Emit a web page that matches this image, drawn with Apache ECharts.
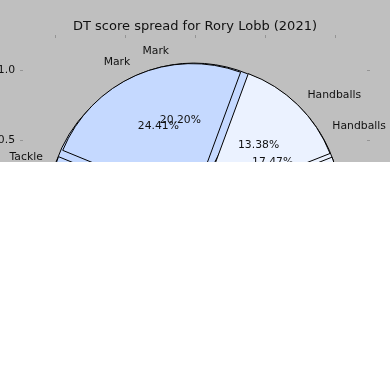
<!DOCTYPE html>
<html><head><meta charset="utf-8">
<script src="https://cdn.jsdelivr.net/npm/echarts@6/dist/echarts.min.js"></script>
<style>html,body{margin:0;padding:0;background:#bfbfbf}#c{width:390px;height:390px}</style>
</head><body><div id="c"></div>
<script>
const titleText = 'DT score spread for Rory Lobb (2021)';
// front pie (drawn on top)
const pieACategories = ['Goals', 'Handballs', 'Mark', 'Tackle', 'Kicks'];
const pieAValues = [6.00, 13.38, 24.41, 12.00, 44.21];
// back pie (drawn underneath)
const pieBCategories = ['Handballs', 'Mark', 'Tackle', 'Hitouts', 'Kicks'];
const pieBValues = [17.47, 20.20, 14.10, 10.00, 38.23];
const axisTickValues = [-1, -0.5, 0, 0.5, 1];

const categoryColors = {
  'Goals': '#eef4ff', 'Handballs': '#ebf2ff', 'Mark': '#c5d9ff',
  'Tackle': '#c3d8ff', 'Hitouts': '#d6e4ff', 'Kicks': '#dce8ff'
};
const FONT = 'DejaVu Sans';
const CX = 195, CY = 210, R = 140, EXPLODE = 7;

function mkData(cats, vals, colored) {
  return cats.map((c, i) => ({
    name: c, value: vals[i], selected: true,
    itemStyle: colored ? { color: categoryColors[c] } : { color: 'rgba(0,0,0,0)', borderWidth: 0 }
  }));
}
function baseSeries(cats, vals, z, radius, colored) {
  return {
    type: 'pie', center: [CX, CY], radius: [0, radius], startAngle: 0, clockwise: false,
    selectedMode: 'multiple', selectedOffset: EXPLODE, avoidLabelOverlap: false,
    labelLayout: { hideOverlap: false },
    silent: true, animation: false, z: z,
    data: mkData(cats, vals, colored)
  };
}
function wedges(cats, vals, z) {
  const s = baseSeries(cats, vals, z, R, true);
  s.itemStyle = { borderColor: '#000', borderWidth: 1 };
  s.select = { itemStyle: { borderColor: '#000', borderWidth: 1 } };
  s.label = { show: false }; s.labelLine = { show: false };
  return s;
}
function nameLabels(cats, vals) {
  const s = baseSeries(cats, vals, 10, R, false);
  s.itemStyle = { color: 'rgba(0,0,0,0)', borderWidth: 0 };
  s.select = { itemStyle: { color: 'rgba(0,0,0,0)', borderWidth: 0 } };
  s.label = { show: true, position: 'outside', formatter: '{b}', fontSize: 10.8, fontFamily: FONT, color: '#111', distanceToLabelLine: 0 };
  s.labelLine = { show: false, length: 14, length2: 0 };
  return s;
}
function pctLabels(cats, vals) {
  const s = baseSeries(cats, vals, 10, 162, false);
  s.itemStyle = { color: 'rgba(0,0,0,0)', borderWidth: 0 };
  s.select = { itemStyle: { color: 'rgba(0,0,0,0)', borderWidth: 0 } };
  s.label = { show: true, position: 'inside', formatter: p => p.value.toFixed(2) + '%', fontSize: 10.8, fontFamily: FONT, color: '#111' };
  s.labelLine = { show: false };
  return s;
}
const fmt = v => (v < 0 ? '\u2212' : '') + Math.abs(v).toFixed(1);
function axis(pos, labels) {
  return {
    type: 'value', min: -1.25, max: 1.25, position: pos,
    axisLine: { show: true, onZero: false, lineStyle: { color: 'rgba(0,0,0,0)' } },
    splitLine: { show: false },
    axisTick: { show: true, inside: true, length: 3, lineStyle: { color: '#959595', width: 1 }, customValues: axisTickValues },
    axisLabel: { show: labels, customValues: axisTickValues, formatter: fmt, fontSize: 10.8, fontFamily: FONT, color: '#111', margin: 5 }
  };
}

const chart = echarts.init(document.getElementById('c'), null, { renderer: 'canvas' });
chart.setOption({
  backgroundColor: '#bfbfbf',
  animation: false,
  title: { text: titleText, left: 'center', top: 20, padding: 0,
    textStyle: { fontSize: 13, fontWeight: 'normal', fontFamily: FONT, color: '#111' } },
  grid: { left: 20, right: 20, top: 35, bottom: 5, containLabel: false, outerBoundsMode: 'none' },
  xAxis: [axis('bottom', true), axis('top', false)],
  yAxis: [axis('left', true), axis('right', false)],
  series: [
    wedges(pieBCategories, pieBValues, 2),
    wedges(pieACategories, pieAValues, 3),
    nameLabels(pieBCategories, pieBValues),
    nameLabels(pieACategories, pieAValues),
    pctLabels(pieBCategories, pieBValues),
    pctLabels(pieACategories, pieAValues)
  ],
  graphic: [{ type: 'rect', left: 0, top: 162, z: 100, shape: { width: 390, height: 228 }, style: { fill: '#ffffff' } }]
});
</script></body></html>
